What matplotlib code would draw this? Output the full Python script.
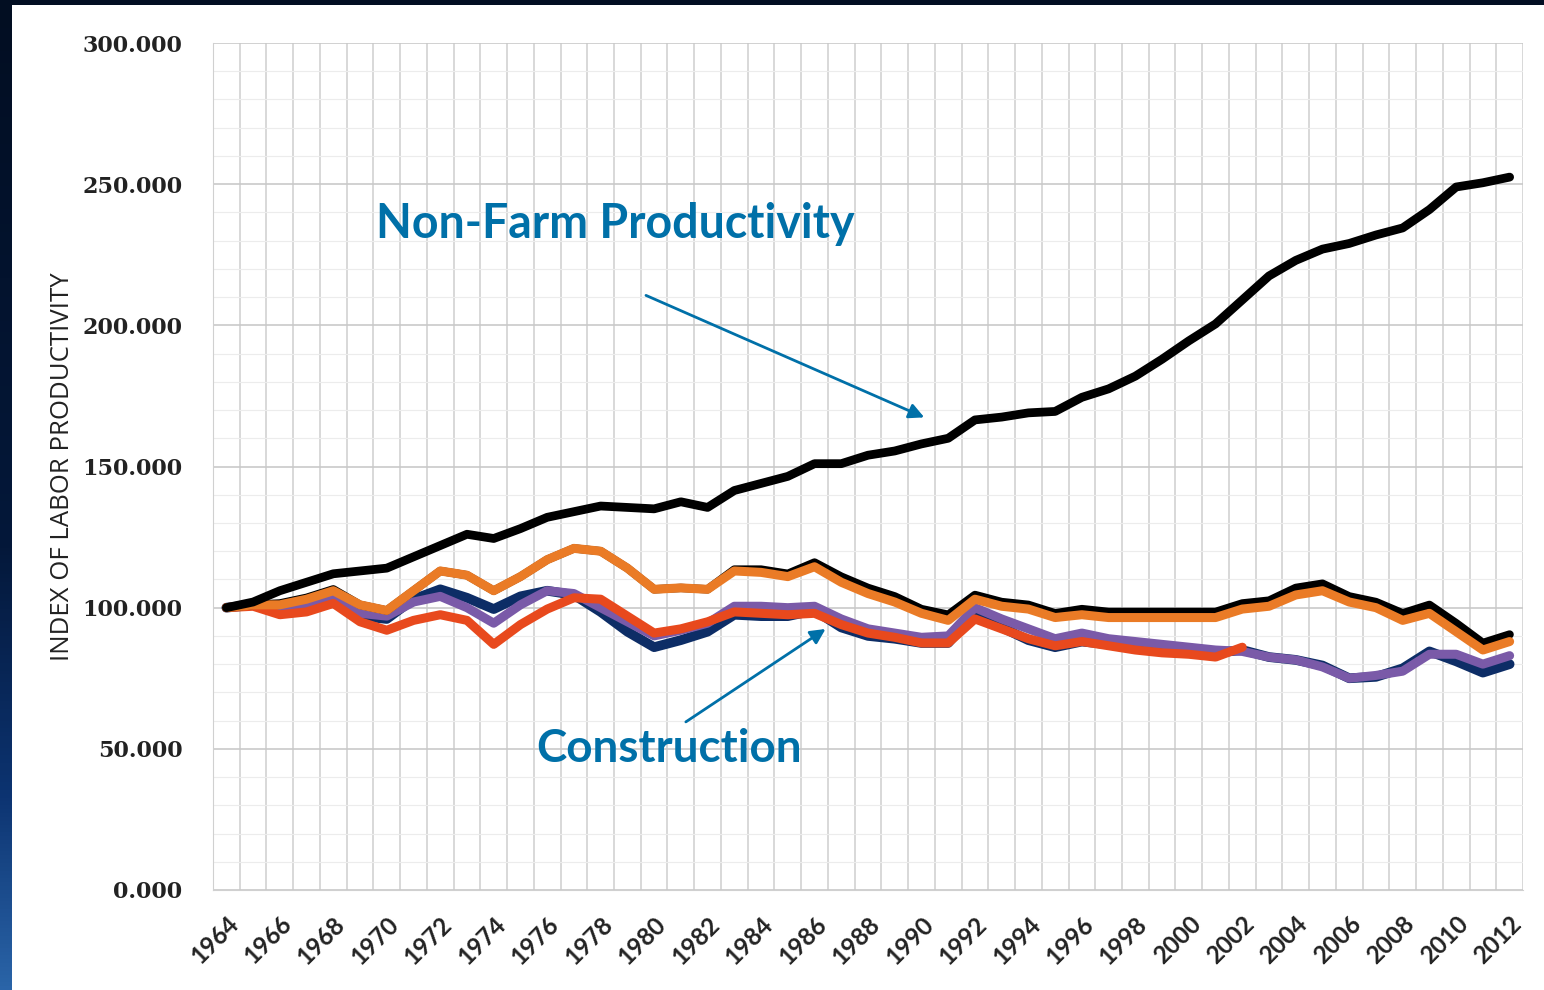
import numpy as np
import matplotlib
matplotlib.use("Agg")
import matplotlib.pyplot as plt
from matplotlib.patches import Rectangle

years = list(range(1964, 2013))

nonfarm = [100, 102, 106, 109, 112, 113, 114, 118, 122, 126, 124.5, 128, 132, 134, 136, 135.5,
           135, 137.5, 135.5, 141.5, 144, 146.5, 151, 151, 154, 155.5, 158, 160, 166.5, 167.5,
           169, 169.5, 174.5, 177.5, 182, 188, 194.5, 200.5, 209, 217.5, 223, 227, 229, 232,
           234.5, 241, 249, 250.5, 252.5]

constr_black = [100, 101, 101.5, 103.5, 106.5, 101, 99, 106, 113, 111.5, 106, 111, 117, 121, 120,
                114, 106.5, 107, 106.5, 113.5, 113.5, 112, 116, 111, 107, 104, 99.5, 97.5, 104.5,
                102, 101, 98, 99.5, 98.5, 98.5, 98.5, 98.5, 98.5, 101.5, 102.5, 107, 108.5, 104,
                102, 98, 101, 94.5, 87.5, 90.5]

constr_orange = [100, 101, 101, 103, 106, 101, 99, 106, 113, 111.5, 106, 111, 117, 121, 120, 114,
                 106.5, 107, 106.5, 113, 112.5, 111, 114.5, 109, 105, 102, 98, 95.5, 103, 100.5,
                 99.5, 96.5, 97.5, 96.5, 96.5, 96.5, 96.5, 96.5, 99.5, 100.5, 104.5, 106, 102, 100,
                 95.5, 98, 91.5, 85, 88]

constr_navy = [100, 101, 99, 100, 103, 97, 96, 103, 106.5, 103.5, 99.5, 104, 106, 104.5, 98.5,
               91.5, 86, 88.5, 91.5, 97.5, 97, 97, 99, 93, 90, 89, 87.5, 87.5, 98, 93, 88.5, 86,
               88, 87, 86, 85, 85, 84, 85, 82.5, 81.5, 79.5, 75, 75.5, 78.5, 84.5, 81, 77, 80]

constr_purple = [100, 101, 99, 100, 103, 98, 97, 102, 104, 100, 94.5, 101, 106, 105, 100, 95, 90,
                 92, 94.5, 100.5, 100.5, 100, 100.5, 96, 92.5, 91, 89.5, 90, 100, 96, 92.5, 89, 91,
                 89, 88, 87, 86, 85, 84.5, 82.5, 81.5, 79, 75, 76, 77.5, 83.5, 83.5, 80, 83]

# red-orange series stops in 2002
constr_red = [100, 100.5, 97.5, 98.5, 101.5, 95, 92, 95.5, 97.5, 95.5, 87, 94, 99.5, 103.5, 103,
              97, 91, 92.5, 95, 98.5, 98, 97.5, 98, 94, 91, 89.5, 87.5, 87.5, 96, 92.5, 89, 86.5,
              88, 86.5, 85, 84, 83.5, 82.5, 86]

y_ticks = np.arange(0, 301, 50)
x_labels = years[::2]

fig = plt.figure(figsize=(15.44, 9.90), dpi=100)
fig.patch.set_facecolor("#020e22")

# white slide area with a blue strip on the left
fig.patches.append(Rectangle((12 / 1544, 0), 1, 1 - 5 / 990, transform=fig.transFigure,
                             facecolor="white", edgecolor="none", zorder=-5))
strip = fig.add_axes([0, 0, 12 / 1544, 1 - 5 / 990])
grad = np.linspace(0, 1, 256).reshape(-1, 1)
edge_cmap = matplotlib.colors.LinearSegmentedColormap.from_list(
    "edge", [(0, "#020e22"), (0.55, "#04183a"), (0.8, "#0c3370"), (1, "#2a64a8")])
strip.imshow(grad, aspect="auto", cmap=edge_cmap, origin="upper")
strip.axis("off")

ax = fig.add_axes([213 / 1544, 1 - 890 / 990, (1523 - 213) / 1544, (890 - 43) / 990])
ax.set_facecolor("white")

ax.plot(years, constr_navy, color="#0d2d66", lw=7, solid_capstyle="round", solid_joinstyle="round", zorder=3)
ax.plot(years, constr_purple, color="#7a5aa8", lw=6.5, solid_capstyle="round", solid_joinstyle="round", zorder=3)
ax.plot(years[:len(constr_red)], constr_red, color="#e8491d", lw=6.5, solid_capstyle="round",
        solid_joinstyle="round", zorder=3)
ax.plot(years, constr_black, color="black", lw=6, solid_capstyle="round", solid_joinstyle="round", zorder=3)
ax.plot(years, constr_orange, color="#ea7b26", lw=6.5, solid_capstyle="round", solid_joinstyle="round", zorder=3)
ax.plot(years, nonfarm, color="black", lw=6.3, solid_capstyle="round", solid_joinstyle="round", zorder=4)

ax.set_xlim(years[0] - 0.5, years[-1] + 0.5)
ax.set_ylim(0, 300)
ax.set_yticks(y_ticks)
ax.set_yticks(np.arange(0, 301, 10), minor=True)
ax.set_yticklabels([f"{v:.3f}" for v in y_ticks], fontfamily="DejaVu Serif", fontweight="bold",
                   fontsize=16, color="#222222")
ax.set_xticks(x_labels)
ax.set_xticks(np.arange(years[0] - 0.5, years[-1] + 1, 1), minor=True)
ax.set_xticklabels([str(y) for y in x_labels], rotation=45, ha="right", va="top",
                   rotation_mode="anchor", fontfamily="Lato", fontweight="bold",
                   fontsize=17.5, color="#222222")
ax.tick_params(axis="both", which="both", length=0)
ax.tick_params(axis="y", pad=22)
ax.tick_params(axis="x", pad=16)

ax.grid(axis="y", which="major", color="#c9c9c9", lw=1.2, zorder=0)
ax.grid(axis="y", which="minor", color="#ececec", lw=0.8, zorder=0)
ax.grid(axis="x", which="minor", color="#d2d2d2", lw=1.2, zorder=0)
ax.set_axisbelow(True)
for s in ax.spines.values():
    s.set_color("#d0d0d0")
ax.spines["top"].set_visible(False)
ax.spines["right"].set_visible(False)

ax.set_ylabel("INDEX OF LABOR PRODUCTIVITY", fontfamily="Open Sans", fontsize=18.5,
              color="#222222", labelpad=5)

blue = "#0070a8"
ax.text(1969.6, 236, "Non-Farm Productivity", fontfamily="Lato", fontweight="bold",
        fontsize=33.5, color=blue, va="center", ha="left")
ax.annotate("", xy=(1990.2, 167), xytext=(1979.6, 211),
            arrowprops=dict(arrowstyle="-|>,head_length=0.9,head_width=0.45", color=blue, lw=2))
ax.text(1975.6, 50, "Construction", fontfamily="Lato", fontweight="bold",
        fontsize=33, color=blue, va="center", ha="left")
ax.annotate("", xy=(1986.5, 93), xytext=(1981.1, 59),
            arrowprops=dict(arrowstyle="-|>,head_length=0.9,head_width=0.45", color=blue, lw=2))

fig.savefig("out.png", dpi=100)
